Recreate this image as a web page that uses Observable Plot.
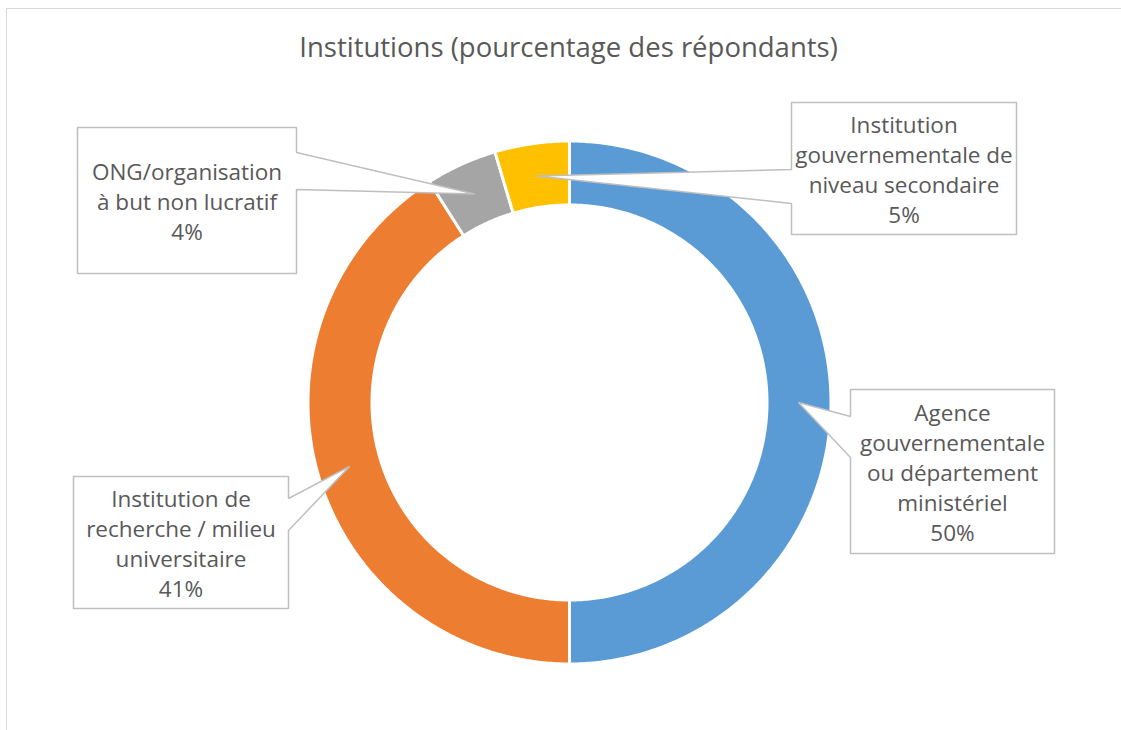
<!DOCTYPE html>
<html>
<head>
<meta charset="utf-8">
<script src="https://cdn.jsdelivr.net/npm/d3@7"></script>
<script src="https://cdn.jsdelivr.net/npm/@observablehq/plot@0.6"></script>
<style>
  html, body { margin: 0; padding: 0; background: #ffffff; }
  #wrap { position: relative; width: 1121px; height: 730px; overflow: hidden; }
  #frame { position: absolute; left: 6px; top: 8px; width: 1200px; height: 800px; border: 1.5px solid #d9d9d9; box-sizing: border-box; }
  #chart { position: absolute; left: 0; top: 0; }
</style>
</head>
<body>
<div id="wrap"><div id="frame"></div><div id="chart"></div></div>
<script>
// ---- data ----
const title = "Institutions (pourcentage des répondants)";
const categories = [
  "Agence\ngouvernementale\nou département\nministériel",
  "Institution de\nrecherche / milieu\nuniversitaire",
  "ONG/organisation\nà but non lucratif",
  "Institution\ngouvernementale de\nniveau secondaire"
];
const values = [50, 41, 4.4, 4.6];
const colors = ["#5b9bd5", "#ed7d31", "#a5a5a5", "#ffc000"];

// ---- layout (callout boxes: x0, y0, x1, y1, side of pointer, pointer attach a/b) ----
const boxX0 = [850, 73, 77, 791];
const boxY0 = [389, 476, 127, 102];
const boxX1 = [1054, 288, 296, 1016];
const boxY1 = [553, 608, 273, 234];
const pointerSide = ["left", "right", "right", "left"];
const pointerA = [416, 498, 152, 169];
const pointerB = [457, 530, 189, 203];

const cx = 569, cy = 402, rOuter = 261.5, rInner = 197.5, rTip = 229;
const font = "'Open Sans', Lato, sans-serif";

const pie = d3.pie().sort(null).value(d => d.value).startAngle(0).endAngle(2 * Math.PI);
const rows = categories.map((name, i) => ({name, value: values[i], i}));
const arcs = pie(rows);

const px = (r, a) => cx + r * Math.sin(a);
const py = (r, a) => cy - r * Math.cos(a);

// slice polygons
const slicePts = [];
for (const a of arcs) {
  const n = Math.max(4, Math.ceil((a.endAngle - a.startAngle) / 0.01));
  for (let k = 0; k <= n; k++) {
    const t = a.startAngle + (a.endAngle - a.startAngle) * k / n;
    slicePts.push({name: a.data.name, x: px(rOuter, t), y: py(rOuter, t)});
  }
  for (let k = n; k >= 0; k--) {
    const t = a.startAngle + (a.endAngle - a.startAngle) * k / n;
    slicePts.push({name: a.data.name, x: px(rInner, t), y: py(rInner, t)});
  }
}

// callout polygons
const calloutPts = [];
const labels = [];
arcs.forEach((a, i) => {
  const mid = (a.startAngle + a.endAngle) / 2;
  const tx = px(rTip, mid), ty = py(rTip, mid);
  const x0 = boxX0[i], y0 = boxY0[i], x1 = boxX1[i], y1 = boxY1[i];
  let pts;
  if (pointerSide[i] === "left") {
    pts = [[x0, y0], [x1, y0], [x1, y1], [x0, y1], [x0, pointerB[i]], [tx, ty], [x0, pointerA[i]]];
  } else {
    pts = [[x0, y0], [x1, y0], [x1, pointerA[i]], [tx, ty], [x1, pointerB[i]], [x1, y1], [x0, y1]];
  }
  pts.forEach(([x, y]) => calloutPts.push({id: i, x, y}));
  labels.push({x: (x0 + x1) / 2, y: (y0 + y1) / 2, text: a.data.name + "\n" + Math.round(a.data.value) + "%"});
});

const chart = Plot.plot({
  width: 1121,
  height: 730,
  margin: 0,
  x: {domain: [0, 1121], range: [0, 1121], axis: null},
  y: {domain: [0, 730], range: [0, 730], axis: null},
  color: {domain: categories, range: colors},
  style: {background: "transparent", fontFamily: font},
  marks: [
    Plot.line(slicePts, {x: "x", y: "y", z: "name", fill: "name", stroke: "white", strokeWidth: 3, curve: "linear-closed"}),
    Plot.line(calloutPts, {x: "x", y: "y", z: "id", fill: "white", stroke: "#bfbfbf", strokeWidth: 1.5, curve: "linear-closed", strokeLinejoin: "miter"}),
    Plot.text(labels, {x: "x", y: "y", text: "text", fill: "#595959", fontSize: 22.5, lineHeight: 1.34, lineAnchor: "middle", textAnchor: "middle", fontFamily: font}),
    Plot.text([title], {x: () => 568, y: () => 48, text: d => d, fill: "#595959", fontSize: 27.5, textAnchor: "middle", lineAnchor: "middle", fontFamily: font})
  ]
});
document.getElementById("chart").appendChild(chart);
</script>
</body>
</html>
